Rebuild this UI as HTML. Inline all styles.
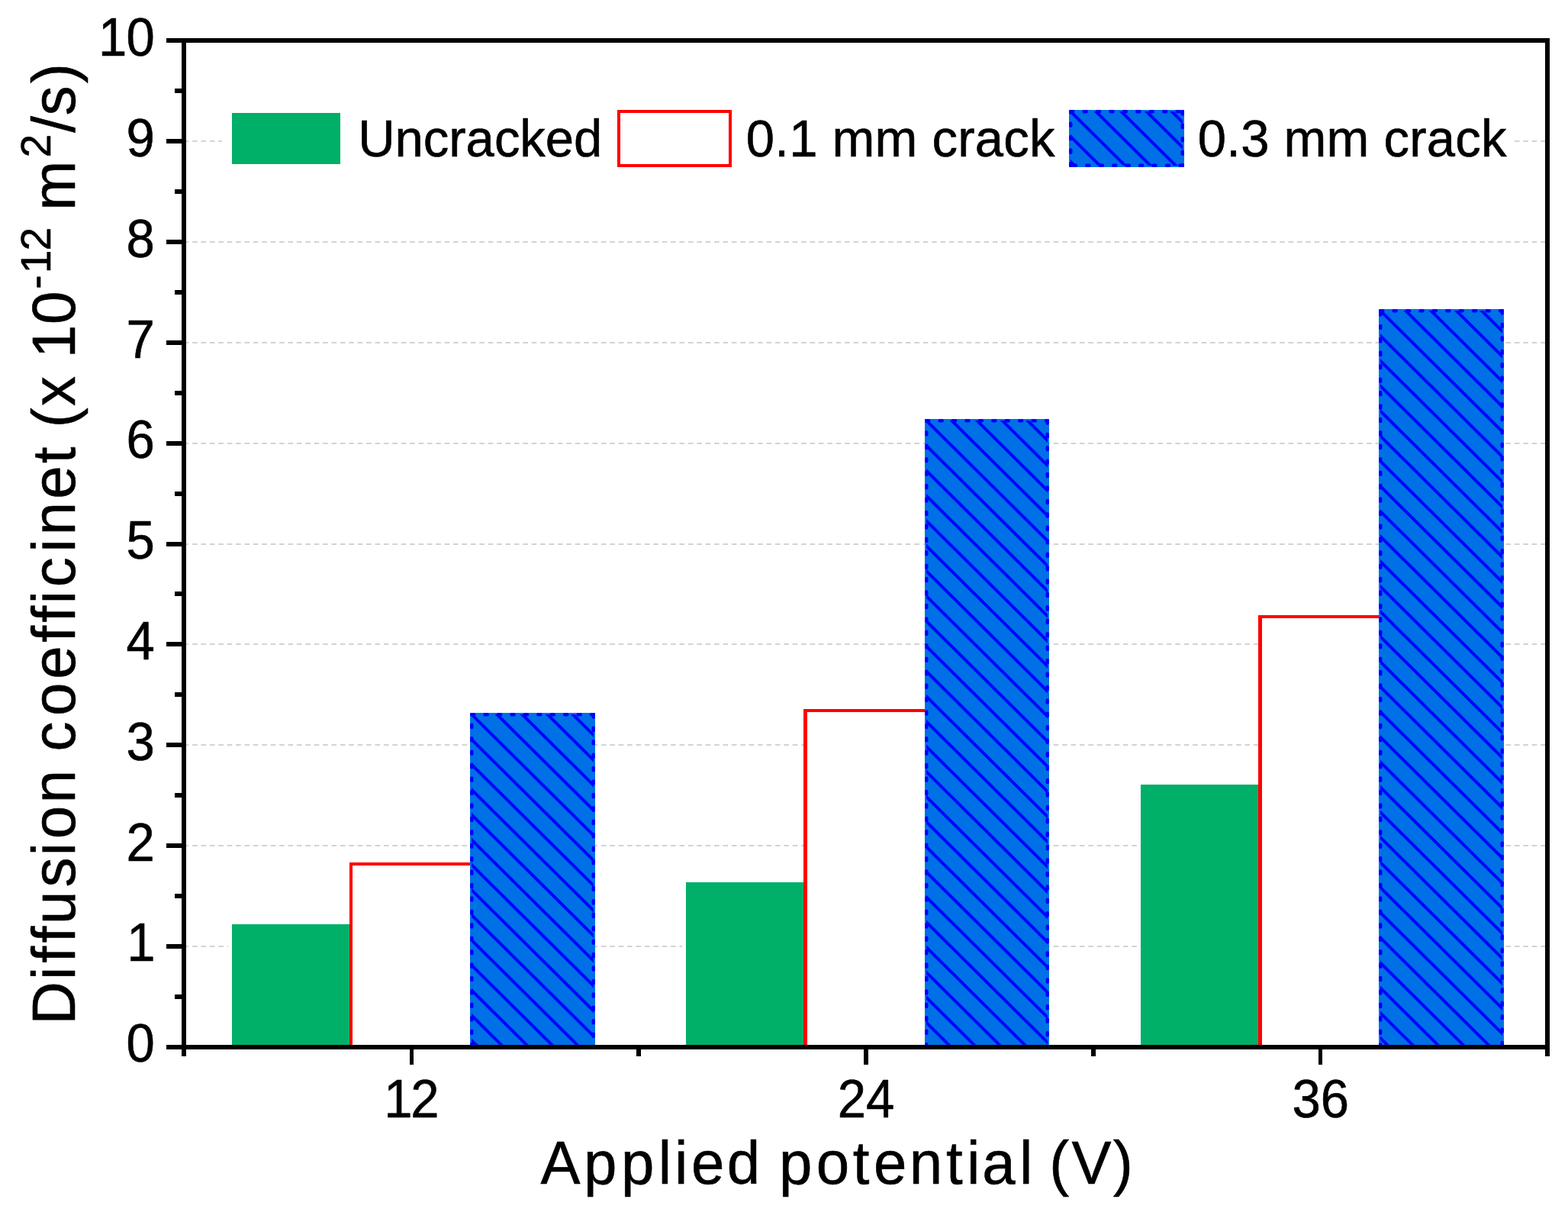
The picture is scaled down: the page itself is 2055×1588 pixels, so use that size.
<!DOCTYPE html>
<html lang="en"><head><meta charset="utf-8">
<title>Diffusion coefficient vs applied potential</title>
<style>
html,body{margin:0;padding:0;background:#fff;}
body{width:2055px;height:1588px;}
svg{display:block;}
text{font-family:'Liberation Sans', sans-serif;fill:#000;stroke:#000;stroke-width:0.6px;stroke-linejoin:round;font-variant-ligatures:none;font-kerning:none;white-space:pre;}
.tk{font-size:67px;}
.ti{font-size:78px;}
.su{font-size:55px;}
</style></head><body>
<svg width="2055" height="1588" viewBox="0 0 2055 1588" role="img" aria-label="Bar chart of diffusion coefficient versus applied potential">
<defs>
<pattern id="hatch" patternUnits="userSpaceOnUse" width="33.15" height="32.864" x="0" y="0">
<rect width="33.15" height="32.864" fill="#0070e6"/>
<path d="M-33.15 -32.864 L66.3 65.728 M-66.3 -32.864 L33.15 65.728 M0 -32.864 L99.45 65.728" stroke="#0000ff" stroke-width="4" fill="none"/>
</pattern>
</defs>
<rect x="0" y="0" width="2055" height="1588" fill="#fff"/>
<g stroke="#d3d3d3" stroke-width="2" stroke-dasharray="6.6 4.8" fill="none">
<line x1="240.7" y1="1240" x2="2025.0" y2="1240"/>
<line x1="240.7" y1="1108" x2="2025.0" y2="1108"/>
<line x1="240.7" y1="976" x2="2025.0" y2="976"/>
<line x1="240.7" y1="844" x2="2025.0" y2="844"/>
<line x1="240.7" y1="713" x2="2025.0" y2="713"/>
<line x1="240.7" y1="581" x2="2025.0" y2="581"/>
<line x1="240.7" y1="449" x2="2025.0" y2="449"/>
<line x1="240.7" y1="317" x2="2025.0" y2="317"/>
<line x1="240.7" y1="185" x2="2025.0" y2="185"/>
</g>
<rect x="299" y="1206" width="164" height="166" fill="#fff"/>
<rect x="304" y="1211" width="154" height="161" fill="#00af68"/>
<rect x="458" y="1130" width="163" height="242" fill="#fff"/>
<path d="M458 1372 V1130 H621 V1372 H617 V1134 H462 V1372 Z" fill="#ff0000"/>
<svg x="616" y="934" width="164" height="438" overflow="hidden">
<rect x="0" y="0" width="164" height="438" fill="#0070e6"/>
<rect x="2" y="2" width="160" height="434" fill="url(#hatch)"/>
<path d="M2.15 2.25 H161.75" fill="none" stroke="#0000ff" stroke-width="4.5" stroke-linecap="round" stroke-dasharray="3.1 14.33"/>
<path d="M161.75 2.35 V435.75" fill="none" stroke="#0000ff" stroke-width="4.5" stroke-linecap="round" stroke-dasharray="3.1 14.33"/>
<path d="M2.25 437.25 V2.25" fill="none" stroke="#0000ff" stroke-width="4.5" stroke-linecap="round" stroke-dasharray="3.1 14.33"/>
</svg>
<rect x="894" y="1151" width="164" height="221" fill="#fff"/>
<rect x="899" y="1156" width="154" height="216" fill="#00af68"/>
<rect x="1053" y="929" width="164" height="443" fill="#fff"/>
<path d="M1053 1372 V929 H1217 V1372 H1213 V933 H1058 V1372 Z" fill="#ff0000"/>
<svg x="1212" y="549" width="163" height="823" overflow="hidden">
<rect x="0" y="0" width="163" height="823" fill="#0070e6"/>
<rect x="2" y="2" width="159" height="819" fill="url(#hatch)"/>
<path d="M2.15 2.25 H160.75" fill="none" stroke="#0000ff" stroke-width="4.5" stroke-linecap="round" stroke-dasharray="3.1 14.33"/>
<path d="M160.75 2.35 V820.75" fill="none" stroke="#0000ff" stroke-width="4.5" stroke-linecap="round" stroke-dasharray="3.1 14.33"/>
<path d="M2.25 822.25 V2.25" fill="none" stroke="#0000ff" stroke-width="4.5" stroke-linecap="round" stroke-dasharray="3.1 14.33"/>
</svg>
<rect x="1490" y="1023" width="164" height="349" fill="#fff"/>
<rect x="1495" y="1028" width="154" height="344" fill="#00af68"/>
<rect x="1649" y="806" width="164" height="566" fill="#fff"/>
<path d="M1649 1372 V806 H1813 V1372 H1809 V810 H1654 V1372 Z" fill="#ff0000"/>
<svg x="1807" y="405" width="164" height="967" overflow="hidden">
<rect x="0" y="0" width="164" height="967" fill="#0070e6"/>
<rect x="2" y="2" width="160" height="963" fill="url(#hatch)"/>
<path d="M2.15 2.25 H161.75" fill="none" stroke="#0000ff" stroke-width="4.5" stroke-linecap="round" stroke-dasharray="3.1 14.33"/>
<path d="M161.75 2.35 V964.75" fill="none" stroke="#0000ff" stroke-width="4.5" stroke-linecap="round" stroke-dasharray="3.1 14.33"/>
<path d="M2.25 966.25 V2.25" fill="none" stroke="#0000ff" stroke-width="4.5" stroke-linecap="round" stroke-dasharray="3.1 14.33"/>
</svg>
<rect x="291" y="136" width="1694" height="92" fill="#fff"/>
<rect x="304" y="148" width="142" height="67" fill="#00af68"/>
<rect x="811" y="146" width="146" height="71" fill="#fff" stroke="#ff0000" stroke-width="4"/>
<svg x="1401" y="144" width="151" height="75" overflow="hidden">
<rect x="0" y="0" width="151" height="75" fill="#0070e6"/>
<rect x="2" y="2" width="147" height="71" fill="url(#hatch)"/>
<path d="M2.15 2.25 H148.75" fill="none" stroke="#0000ff" stroke-width="4.5" stroke-linecap="round" stroke-dasharray="3.1 14.33"/>
<path d="M148.75 2.35 V72.75" fill="none" stroke="#0000ff" stroke-width="4.5" stroke-linecap="round" stroke-dasharray="3.1 14.33"/>
<path d="M148.45 72.75 H2.25" fill="none" stroke="#0000ff" stroke-width="4.5" stroke-linecap="round" stroke-dasharray="3.1 14.33"/>
<path d="M2.25 73.15 V2.25" fill="none" stroke="#0000ff" stroke-width="4.5" stroke-linecap="round" stroke-dasharray="3.1 14.33"/>
</svg>
<text class="tk" transform="translate(469.2 205) scale(1 1.02)">Uncracked</text>
<text class="tk" transform="translate(977.8 205) scale(1 1.02)" style="letter-spacing:0.25px">0.1 mm crack</text>
<text class="tk" transform="translate(1569.8 205) scale(1 1.02)" style="letter-spacing:0.25px">0.3 mm crack</text>
<g stroke="#000" stroke-width="6" fill="none" stroke-linecap="butt">
<rect x="241" y="53" width="1787" height="1319"/>
</g>
<g fill="#000">
<rect x="218" y="1369" width="23" height="6"/>
<rect x="229" y="1303" width="12" height="6"/>
<rect x="218" y="1237" width="23" height="6"/>
<rect x="229" y="1171" width="12" height="6"/>
<rect x="218" y="1105" width="23" height="6"/>
<rect x="229" y="1039" width="12" height="6"/>
<rect x="218" y="973" width="23" height="6"/>
<rect x="229" y="907" width="12" height="6"/>
<rect x="218" y="841" width="23" height="6"/>
<rect x="229" y="775" width="12" height="6"/>
<rect x="218" y="710" width="23" height="6"/>
<rect x="229" y="644" width="12" height="6"/>
<rect x="218" y="578" width="23" height="6"/>
<rect x="229" y="512" width="12" height="6"/>
<rect x="218" y="446" width="23" height="6"/>
<rect x="229" y="380" width="12" height="6"/>
<rect x="218" y="314" width="23" height="6"/>
<rect x="229" y="248" width="12" height="6"/>
<rect x="218" y="182" width="23" height="6"/>
<rect x="229" y="116" width="12" height="6"/>
<rect x="218" y="50" width="23" height="6"/>
<rect x="238" y="1372" width="6" height="12"/>
<rect x="537" y="1372" width="5" height="23"/>
<rect x="834" y="1372" width="6" height="12"/>
<rect x="1132" y="1372" width="6" height="23"/>
<rect x="1430" y="1372" width="6" height="12"/>
<rect x="1728" y="1372" width="5" height="23"/>
<rect x="2025" y="1372" width="6" height="12"/>
</g>
<text class="tk" transform="translate(0 1391.2) scale(1 1.04)" x="165.5" y="0">0</text>
<text class="tk" transform="translate(0 1259.4) scale(1 1.04)" x="166.3" y="0">1</text>
<text class="tk" transform="translate(0 1127.6) scale(1 1.04)" x="165.5" y="0">2</text>
<text class="tk" transform="translate(0 995.8) scale(1 1.04)" x="165.5" y="0">3</text>
<text class="tk" transform="translate(0 864.0) scale(1 1.04)" x="165.5" y="0">4</text>
<text class="tk" transform="translate(0 732.2) scale(1 1.04)" x="165.5" y="0">5</text>
<text class="tk" transform="translate(0 600.4) scale(1 1.04)" x="165.5" y="0">6</text>
<text class="tk" transform="translate(0 468.6) scale(1 1.04)" x="165.5" y="0">7</text>
<text class="tk" transform="translate(0 336.8) scale(1 1.04)" x="165.5" y="0">8</text>
<text class="tk" transform="translate(0 205.0) scale(1 1.04)" x="165.5" y="0">9</text>
<text class="tk" transform="translate(0 73.2) scale(1 1.04)" x="129.1 165.5" y="0">10</text>
<text class="tk" transform="translate(0 1463.9) scale(1 1.04)" x="503.2 538.2" y="0">12</text>
<text class="tk" transform="translate(0 1463.9) scale(1 1.04)" x="1097.7 1135.0" y="0">24</text>
<text class="tk" transform="translate(0 1463.9) scale(1 1.04)" x="1693.4 1730.7" y="0">36</text>
<text class="ti" transform="translate(0 1550.8) scale(1 1.02)" x="708.5 765.1 814.1 862.8 883.9 905.9 952.8 996.2 1021.0 1069.8 1117.8 1145.0 1191.8 1240.0 1267.0 1287.3 1335.9 1353.2 1375.3 1404.5 1458.8" y="0">Applied potential (V)</text>
<text class="ti" transform="translate(97.8 1342) rotate(-90) scale(1 1.02)" x="-0.5 57.9 80.6 106.7 130.9 179.6 220.8 242.8 289.8 333.2 357.4 403.9 452.2 500.4 526.6 550.8 572.7 618.5 640.8 688.2 734.8 756.4 781.8 810.0 849.0 872.7 916.9" y="0">Diffusion coefficinet (x 10<tspan class="su" x="963.3 983.7 1013.6" y="-31.1">-12</tspan><tspan x="1044.6 1066.2" y="0"> m</tspan><tspan class="su" x="1135.4" y="-31.1">2</tspan><tspan x="1168.2 1190.6 1232.7" y="0">/s)</tspan></text>
</svg>
</body></html>
